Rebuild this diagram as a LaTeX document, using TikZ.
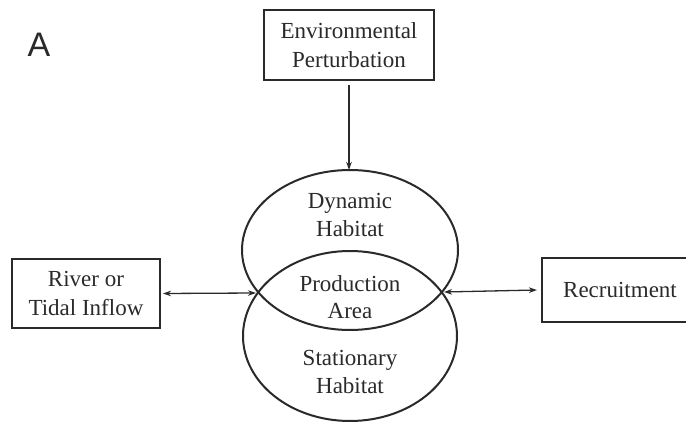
\documentclass[tikz,border=0pt]{standalone}
\usepackage{fontspec}
\setmainfont{Liberation Serif}
\newfontfamily\labelfont{Liberation Sans}
\usetikzlibrary{shapes.geometric,arrows.meta}
\definecolor{ink}{HTML}{2A2A2A}
\begin{document}
\begin{tikzpicture}[x=1pt,y=-1pt,
  box/.style={draw=ink,line width=2pt,inner sep=0pt,outer sep=0pt,align=center,text=ink,font=\fontsize{23}{28.5}\selectfont},
  blob/.style={draw=ink,line width=2pt,ellipse,inner sep=0pt,outer sep=0pt},
  txt/.style={align=center,text=ink,font=\fontsize{23}{27.5}\selectfont},
  conn/.style={draw=ink,line width=1.3pt},
  tip/.style={-{Stealth[length=8pt,width=5.5pt]}},
  tips/.style={{Stealth[length=8pt,width=5.5pt]}-{Stealth[length=8pt,width=5.5pt]}}]
\useasboundingbox (0,0) rectangle (686,422);
\clip (0,0) rectangle (686,422);
\fill[white] (0,0) rectangle (686,422);
\node[text=ink,font=\labelfont\fontsize{34}{38}\selectfont] (lab) at (39,45) {A};
\node[box,minimum width=170,minimum height=70] (env) at (349,45) {Environmental\\Perturbation};
\node[blob,minimum width=216,minimum height=160] (up) at (350,250) {};
\node[blob,minimum width=214,minimum height=170] (lo) at (350,336) {};
\node[txt] (dyn) at (350,215) {Dynamic\\Habitat};
\node[txt] (prod) at (350,297) {Production\\Area};
\node[txt] (stat) at (350,372) {Stationary\\Habitat};
\node[box,minimum width=148,minimum height=69] (river) at (86,293.5) {River or\\Tidal Inflow};
\node[box,minimum width=156,minimum height=64,anchor=west] (rec) at (542,290) {Recruitment};
\coordinate (li) at (256,293);
\coordinate (ri) at (444,292);
\draw[conn,tip] ([yshift=-5pt]env.south) -- (env.south |- up.north);
\draw[conn,tips] ([xshift=3pt]river.east) -- (li);
\draw[conn,tips] (ri) -- ([xshift=-5pt]rec.west);
\end{tikzpicture}
\end{document}
